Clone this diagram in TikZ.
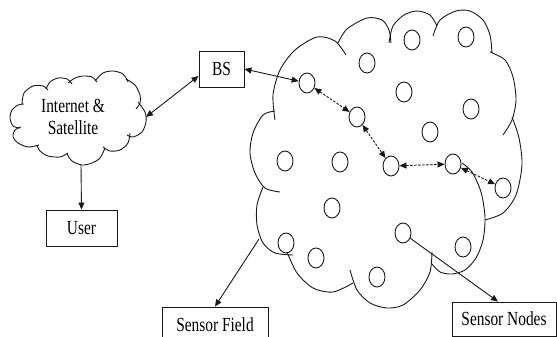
\documentclass[tikz,border=0pt]{standalone}
\usepackage{fontspec}
\setmainfont{Liberation Serif}
\usetikzlibrary{arrows.meta,shapes.geometric}
\newcommand{\narrowtext}[1]{\scalebox{0.77}[1]{#1}}
\tikzset{
  ln/.style={draw=black!90, line width=0.9pt},
  sensor/.style={ellipse, draw=black!90, line width=0.9pt, minimum width=16pt, minimum height=20pt, inner sep=0pt},
  box/.style={rectangle, draw=black!90, line width=0.9pt, inner sep=0pt, font=\fontsize{20}{22}\selectfont},
  txt/.style={inner sep=0pt, font=\fontsize{20}{22}\selectfont, align=center},
  link/.style={ln, {Triangle[length=7pt,width=6pt]}-{Triangle[length=7pt,width=6pt]}},
  dlink/.style={link, dash pattern=on 2.5pt off 1.5pt},
  pointer/.style={ln, -{Triangle[length=7pt,width=6pt]}}
}
\begin{document}
\begin{tikzpicture}[x=1pt,y=-1pt]
\useasboundingbox (0,0) rectangle (557,337);
\fill[white] (0,0) rectangle (557,337);

% ---- Internet & Satellite cloud ----
\draw[ln] plot[smooth] coordinates {(22,104) (24,93) (33,86) (43,86) (48,90)};
\draw[ln] plot[smooth] coordinates {(46,89) (50,82) (58,78) (67,79) (72,84)};
\draw[ln] plot[smooth] coordinates {(68,83) (75,78) (83,76) (92,77) (97,82)};
\draw[ln] plot[smooth] coordinates {(95,81) (103,73) (113,71) (123,74) (128,82)};
\draw[ln] plot[smooth] coordinates {(126,79) (135,85) (140,95) (140,103) (136,109)};
\draw[ln] plot[smooth] coordinates {(138,102) (145,112) (146,122) (142,132) (133,137) (127,135)};
\draw[ln] plot[smooth] coordinates {(130,133) (128,143) (120,150) (110,151) (103,147)};
\draw[ln] plot[smooth] coordinates {(105,148) (100,158) (92,163) (82,165) (72,161) (67,154)};
\draw[ln] plot[smooth] coordinates {(68,153) (60,157) (48,156) (40,151) (37,145)};
\draw[ln] plot[smooth] coordinates {(39,145) (28,147) (18,143) (13,137) (15,130) (21,127)};
\draw[ln] plot[smooth] coordinates {(20,128) (13,126) (10,118) (12,110) (18,105) (24,104)};
\node[txt] (inet) at (73,117) {\narrowtext{Internet \&}\\\narrowtext{Satellite}};
\coordinate (inetE) at (146,117);
\coordinate (inetS) at (81,165);

% ---- Sensor field cloud ----
\draw[ln] plot[smooth] coordinates {(275,120) (273,95) (280,70) (295,50) (317,37) (335,41) (346,55)};
\draw[ln] plot[smooth] coordinates {(338,43) (347,29) (367,18) (382,20) (389,30) (391,43)};
\draw[ln] plot[smooth] coordinates {(389,43) (393,26) (404,15) (417,11) (430,15) (437,26)};
\draw[ln] plot[smooth] coordinates {(433,36) (440,20) (456,11) (470,11) (483,20) (490,35) (492,53)};
\draw[ln] plot[smooth] coordinates {(490,52) (505,60) (513,77) (516,100) (512,120) (503,135)};
\draw[ln] plot[smooth] coordinates {(512,117) (519,138) (522,165) (516,195) (503,213) (485,220)};
\draw[ln] plot[smooth] coordinates {(462,163) (472,172) (481,192) (485,217) (483,240) (476,258) (465,270) (452,274) (440,272) (432,264)};
\draw[ln] plot[smooth] coordinates {(432,252) (430,272) (420,290) (403,305) (387,308) (370,303) (357,290) (350,270)};
\draw[ln] plot[smooth] coordinates {(353,283) (333,292) (313,288) (297,273) (287,252)};
\draw[ln] plot[smooth] coordinates {(263,187) (257,205) (257,225) (263,243) (275,253) (293,255)};
\draw[ln] plot[smooth] coordinates {(275,111) (263,115) (253,133) (250,153) (255,173) (265,188) (280,192)};
\coordinate (sfpt) at (259,239);

% ---- sensor nodes ----
\node[sensor] (n1) at (307,83) {};
\node[sensor] (n2) at (357,117) {};
\node[sensor] (n3) at (391,166) {};
\node[sensor] (n4) at (453,164) {};
\node[sensor] (n5) at (503,188) {};
\node[sensor] (n6) at (412,40) {};
\node[sensor] (n7) at (466,37) {};
\node[sensor] (n8) at (367,63) {};
\node[sensor] (n9) at (404,92) {};
\node[sensor] (n10) at (471,109) {};
\node[sensor] (n11) at (430,132) {};
\node[sensor] (n12) at (285,161) {};
\node[sensor] (n13) at (340,162) {};
\node[sensor] (n14) at (332,208) {};
\node[sensor] (n15) at (403,233) {};
\node[sensor] (n16) at (286,243) {};
\node[sensor] (n17) at (316,258) {};
\node[sensor] (n18) at (463,247) {};
\node[sensor] (n19) at (377,277) {};

% ---- boxes ----
\node[box, minimum width=45pt, minimum height=36pt] (bs) at (221.5,69) {\narrowtext{BS}};
\node[box, minimum width=71pt, minimum height=36pt] (user) at (81.5,228) {\narrowtext{User}};
\node[box, minimum width=106pt, minimum height=35pt] (sfbox) at (215,324.5) {\narrowtext{Sensor Field}};
\node[box, minimum width=104pt, minimum height=34pt] (snbox) at (504,319) {\narrowtext{Sensor Nodes}};

% ---- connectors ----
\draw[link] (inetE) -- ([yshift=-7pt]bs.west);
\draw[link] (bs.east) -- (n1);
\draw[pointer] (inetS) -- (user.north);
\draw[dlink] (n1) -- (n2);
\draw[dlink] (n2) -- (n3);
\draw[dlink] (n3) -- (n4);
\draw[dlink] (n4) -- (n5);
\draw[pointer] (sfpt) -- (sfbox.north);
\draw[pointer] (n15) -- ([xshift=-6pt]snbox.north);
\end{tikzpicture}
\end{document}
